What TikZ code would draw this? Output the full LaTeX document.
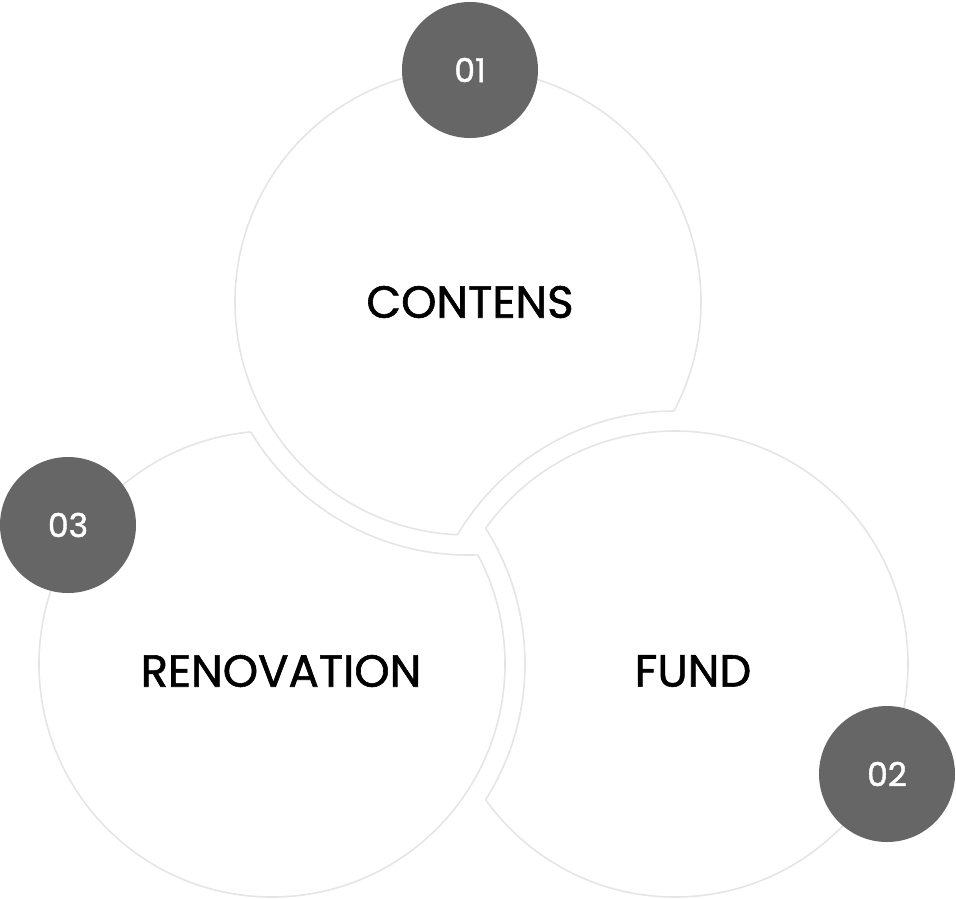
\documentclass[tikz,border=0pt]{standalone}
\usepackage{fontspec}
\setmainfont{Poppins}
\newfontfamily\lblfont[FakeBold=1.3]{Poppins}
\begin{document}
\begin{tikzpicture}[x=1pt,y=-1pt,
  ring/.style={draw=black!10,line width=1.6pt},
  badge/.style={circle,fill=black!60,minimum size=136pt,inner sep=0pt,text=white,font=\fontsize{33}{33}\selectfont\lblfont},
  lbl/.style={font=\fontsize{45}{45}\selectfont\lblfont,text=black}]
\useasboundingbox (0,0) rectangle (956,898);
\coordinate (T) at (468,302);
\coordinate (L) at (272,664);
\coordinate (F) at (675,664);
\newcommand\mycut[2]{%
  \begin{scope}[even odd rule]
    \clip (-50,-50) rectangle (1010,950) (#2) circle[radius=253pt];
    \draw[ring] (#1) circle[radius=233pt];
  \end{scope}
  \begin{scope}
    \clip (#1) circle[radius=233pt];
    \draw[ring] (#2) circle[radius=253pt];
  \end{scope}}
\mycut{T}{F}
\mycut{F}{L}
\mycut{L}{T}
\node[lbl] (t1) at (470,302) {CONTENS};
\node[lbl] (t2) at (281,671) {RENOVATION};
\node[lbl] (t3) at (693,671) {FUND};
\node[badge] (b1) at (470,70) {01};
\node[badge] (b3) at (68,525) {03};
\node[badge] (b2) at (887,774) {02};
\end{tikzpicture}
\end{document}
